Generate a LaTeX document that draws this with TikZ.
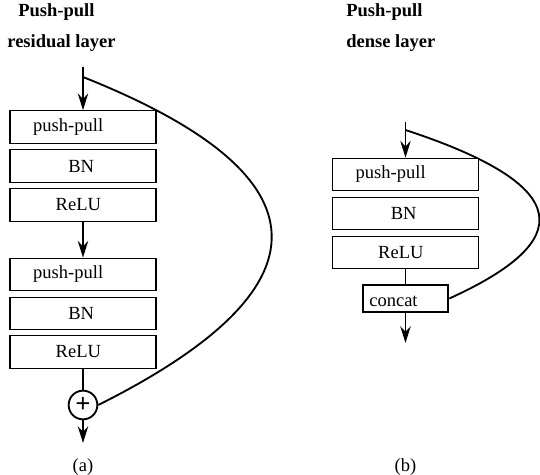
\documentclass[tikz,border=0pt]{standalone}
\usepackage{fontspec}
\setmainfont{Liberation Serif}
\usetikzlibrary{arrows.meta}
\pgfdeclarelayer{edgelayer}
\pgfdeclarelayer{nodelayer}
\pgfsetlayers{edgelayer,nodelayer,main}
\tikzstyle{block}=[rectangle, draw=black, line width=0.7pt, fill=white, inner sep=0pt, minimum width=78.8pt, minimum height=17.5pt]
\tikzstyle{catbox}=[rectangle, draw=black, line width=1.1pt, fill=white, inner sep=0pt, minimum width=46.2pt, minimum height=14.4pt]
\tikzstyle{sumnode}=[circle, draw=black, line width=1pt, fill=white, inner sep=0pt, minimum size=15.5pt]
\tikzstyle{title}=[anchor=west, inner sep=0pt, font=\bfseries]
\tikzstyle{flow}=[draw=black, line width=1pt, -{Stealth[length=9pt, width=5.6pt]}]
\tikzstyle{link}=[draw=black, line width=1pt]

\begin{document}
\begin{tikzpicture}[x=0.54pt, y=-0.54pt]
				\useasboundingbox (0, 0) rectangle (540, 475);
				\begin{pgfonlayer}{nodelayer}
					\node [style=title] (ta1) at (18, 12) {Push-pull};
					\node [style=title] (ta2) at (7, 43) {residual layer};
					\node [style=title] (tb1) at (346, 12) {Push-pull};
					\node [style=title] (tb2) at (346, 43) {dense layer};
					\node [style=block] (a1) at (83, 127) {push-pull\kern16pt};
					\node [style=block] (a2) at (83, 166) {BN\kern2pt};
					\node [style=block] (a3) at (83, 205) {ReLU\kern5pt};
					\node [style=block] (a4) at (83, 274.5) {push-pull\kern16pt};
					\node [style=block] (a5) at (83, 313.5) {BN\kern2pt};
					\node [style=block] (a6) at (83, 352) {ReLU\kern5pt};
					\node [style=sumnode] (sum) at (83, 405) {\Large\textbf{+}};
					\node [style=block] (b1) at (405.5, 174.5) {push-pull\kern16pt};
					\node [style=block] (b2) at (405.5, 213.5) {BN\kern2pt};
					\node [style=block] (b3) at (405.5, 252.5) {ReLU\kern5pt};
					\node [style=catbox] (cat) at (405.5, 298.5) {\raisebox{-4.5pt}[0pt][0pt]{concat}\kern13pt};
					\node (capa) at (83, 467) {(a)};
					\node (capb) at (405.5, 467) {(b)};
				\end{pgfonlayer}
				\coordinate (ina) at (83, 67);
				\coordinate (splita) at (83, 77);
				\coordinate (outa) at (83, 443);
				\coordinate (inb) at (405.5, 122);
				\coordinate (splitb) at (405.5, 130);
				\coordinate (outb) at (405.5, 343);
				\begin{pgfonlayer}{edgelayer}
					\draw [style=flow] (ina) to (a1.north);
					\draw [style=flow] (a3.south) to (a4.north);
					\draw [style=link] (a6.south) to (sum.north);
					\draw [style=flow] (sum.south) to (outa);
					\draw [style=link] (splita) .. controls (332, 176) and (332, 288) .. (sum.east);
					\draw [style=flow] (inb) to (b1.north);
					\draw [style=link] (b3.south) to (cat.north);
					\draw [style=flow] (cat.south) to (outb);
					\draw [style=link] (splitb) .. controls (576, 186) and (576, 241) .. (cat.east);
				\end{pgfonlayer}
			\end{tikzpicture}
\end{document}
